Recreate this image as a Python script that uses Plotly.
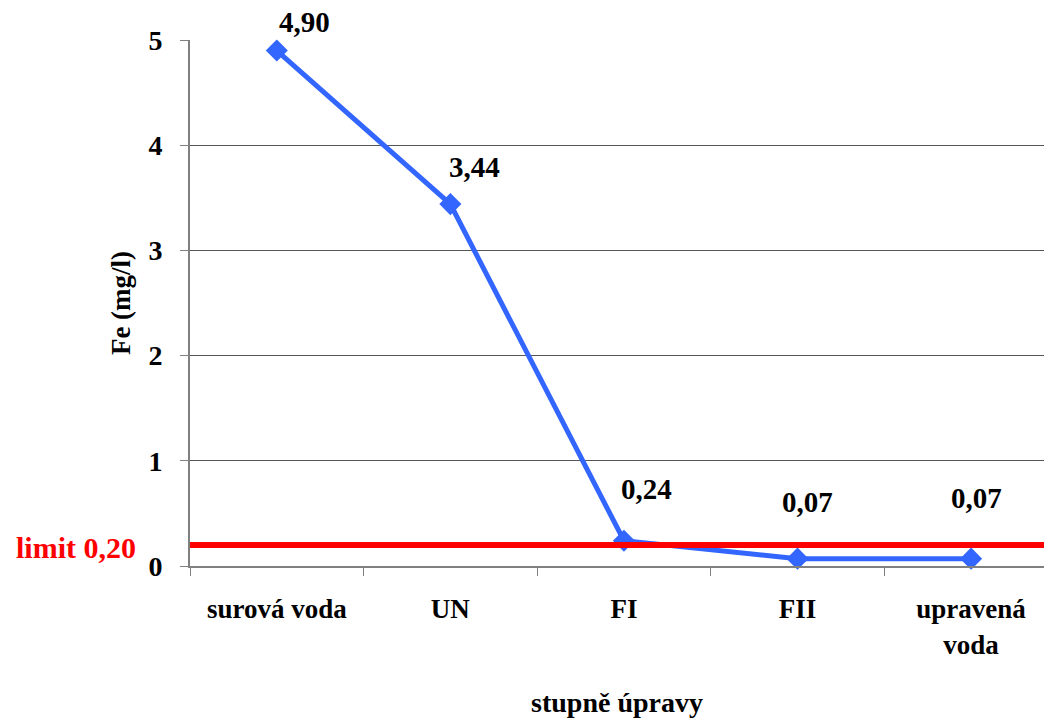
import plotly.graph_objects as go

# Iron concentration at each treatment stage
stages = ["surová voda", "UN", "FI", "FII", "upravená<br>voda"]
fe_values = [4.90, 3.44, 0.24, 0.07, 0.07]
fe_labels = ["4,90", "3,44", "0,24", "0,07", "0,07"]
limit_value = 0.20
limit_label = "limit 0,20"

# pixel offsets of the value labels relative to their markers
label_dx = [28, 24, 23, 10, 5]
label_dy = [29, 37, 52, 57, 61]

FONT = "Liberation Serif, Times New Roman, serif"
BLUE = "#3366FF"

fig = go.Figure()
fig.add_trace(go.Scatter(
    x=stages, y=fe_values, mode="lines+markers",
    line=dict(color=BLUE, width=5),
    marker=dict(symbol="diamond", size=17, color=BLUE),
    showlegend=False, cliponaxis=False,
))

# limit line across the plot
fig.add_shape(type="line", xref="paper", yref="y", x0=0, x1=1,
              y0=limit_value, y1=limit_value,
              line=dict(color="#FF0000", width=6))
fig.add_annotation(xref="paper", yref="y", x=0, y=limit_value,
                   text=f"<b>{limit_label}</b>", showarrow=False,
                   xanchor="right", yanchor="middle", xshift=-52, yshift=-3,
                   font=dict(family=FONT, size=30, color="#FF0000"))

for st, v, lab, dx, dy in zip(stages, fe_values, fe_labels, label_dx, label_dy):
    fig.add_annotation(x=st, y=v, text=f"<b>{lab}</b>", showarrow=False,
                       xshift=dx, yshift=dy,
                       font=dict(family=FONT, size=29, color="black"))

fig.update_layout(
    width=1044, height=718,
    margin=dict(l=190, r=0, t=40, b=152),
    paper_bgcolor="white", plot_bgcolor="white",
    font=dict(family=FONT, size=27, color="black"),
)
fig.update_xaxes(
    type="category", range=[-0.5, 4.42],
    tickson="boundaries", ticks="outside", ticklen=8, tickcolor="#808080",
    showline=True, linecolor="#808080", linewidth=2, showgrid=False,
    tickfont=dict(family=FONT, size=27), ticklabelstandoff=18,
    tickvals=stages, ticktext=[f"<b>{s}</b>" for s in stages],
    title=dict(text="<b>stupně úpravy</b>", font=dict(family=FONT, size=28), standoff=34),
)
fig.update_yaxes(
    range=[0, 5], dtick=1, ticks="outside", ticklen=8, tickcolor="#808080",
    showline=True, linecolor="#808080", linewidth=2,
    showgrid=True, gridcolor="#555555", gridwidth=1, zeroline=False,
    tickfont=dict(family=FONT, size=28), ticklabelstandoff=12,
    tickprefix="<b>", ticksuffix="</b>",
    title=dict(text="<b>Fe (mg/l)</b>", font=dict(family=FONT, size=27), standoff=10),
)

fig.write_html("out.html")
